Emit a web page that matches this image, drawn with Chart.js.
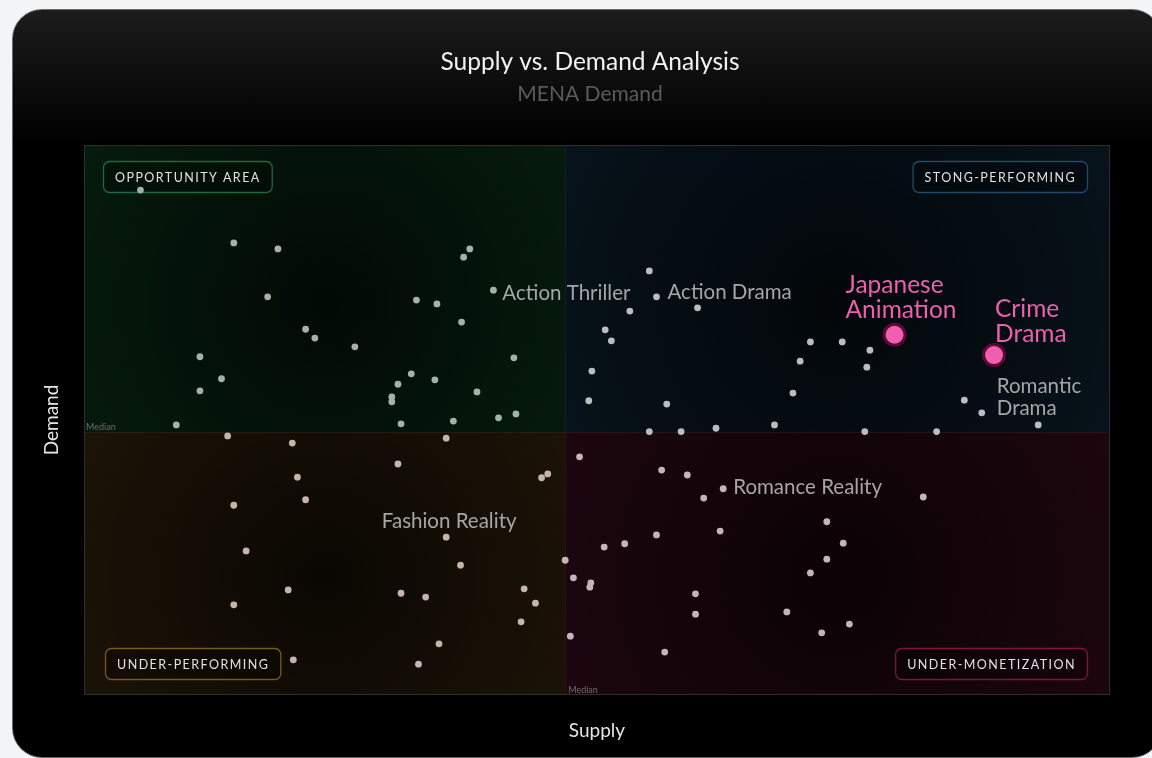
<!DOCTYPE html>
<html>
<head>
<meta charset="utf-8">
<script src="https://cdn.jsdelivr.net/npm/chart.js@4.4.1/dist/chart.umd.min.js"></script>
<style>
  html, body { margin: 0; padding: 0; width: 1152px; height: 758px; overflow: hidden; background: #f3f4f6; }
  .card {
    position: absolute; left: 12px; top: 9px; width: 1150px; height: 749px;
    box-sizing: border-box; border: 1px solid #6a6a6a; border-radius: 30px;
    background: linear-gradient(180deg, #1c1c1c 0px, #0b0b0b 80px, #000 135px, #000 100%);
  }
  .wrap { position: absolute; left: 0; top: 0; width: 1152px; height: 758px; }
</style>
</head>
<body>
<div class="card"></div>
<div class="wrap"><canvas id="chart"></canvas></div>
<script>
// --- Datos (supply / demand index, 0-100) ---
const medianSupply = 46.9;
const medianDemand = 47.8;

// titles without label
const supplyValues = [
  5.5, 14.6, 18.9, 17.9, 21.6, 22.5, 26.4, 11.3, 13.4, 11.3, 9.0, 37.6, 37.0, 32.4,
  34.4, 36.8, 41.9, 31.9, 30.6, 34.2, 30.0, 30.0, 38.3, 30.9, 36.0, 40.4, 42.1,
  55.1, 53.2, 59.8, 50.8, 51.4, 49.5, 49.2, 56.8, 70.8, 73.9, 76.6, 69.8, 76.3,
  69.1, 85.8, 93.0, 67.3, 61.6, 58.2, 55.1, 76.1, 83.1,
  14.0, 20.3, 35.3, 30.6, 20.8, 21.6, 14.6, 45.2, 44.6, 15.8, 36.7, 19.9, 14.6,
  30.9, 33.3, 42.9, 44.0, 42.6, 34.6, 20.4, 32.6,
  48.3, 56.3, 58.8, 60.4, 81.8, 72.4, 62.0, 55.8, 74.0, 52.7, 50.7, 46.9, 72.4,
  70.8, 47.7, 49.4, 49.3, 59.6, 59.6, 68.5, 74.6, 71.9, 47.4, 56.6
];
const demandValues = [
  91.8, 82.2, 81.1, 72.4, 66.5, 64.9, 63.3, 61.5, 57.5, 55.3, 49.1, 81.1, 79.6, 71.8,
  71.1, 67.8, 61.3, 58.4, 56.5, 57.3, 54.2, 53.3, 55.1, 49.3, 49.8, 50.4, 51.1,
  77.1, 69.8, 70.4, 66.4, 64.4, 58.9, 53.5, 52.9, 64.2, 64.2, 62.7, 60.7, 59.6,
  54.9, 53.6, 49.1, 49.1, 48.5, 47.9, 47.9, 47.9, 47.9,
  47.1, 45.8, 46.7, 42.0, 39.6, 35.5, 34.5, 40.2, 39.5, 26.2, 23.6, 19.1, 16.4,
  18.5, 17.8, 19.3, 16.7, 13.3, 9.3, 6.4, 5.6,
  43.3, 40.9, 40.0, 35.8, 36.0, 31.5, 29.8, 29.1, 27.6, 27.5, 26.9, 24.5, 24.7,
  22.2, 21.3, 20.4, 19.6, 18.4, 14.7, 15.1, 12.9, 11.3, 10.7, 7.8
];

// labelled titles
const namedTitles = ['Action Thriller', 'Action Drama', 'Romantic Drama', 'Fashion Reality', 'Romance Reality'];
const namedSupply = [39.9, 55.8, 87.5, 35.3, 62.3];
const namedDemand = [73.6, 72.4, 51.3, 28.7, 37.5];

// highlighted titles
const highlightTitles = ['Japanese Animation', 'Crime Drama'];
const highlightSupply = [79.0, 88.7];
const highlightDemand = [65.5, 61.8];

const quadrantLabels = ['OPPORTUNITY AREA', 'STONG-PERFORMING', 'UNDER-PERFORMING', 'UNDER-MONETIZATION'];

// --- Estilos ---
const FONT = 'Lato, "Noto Sans", sans-serif';
const PINK = '#ee5fae';

// label offsets from the point (px)
const labelPlacement = {
  'Action Thriller':    { dx: 9,   dy: 3,   align: 'left' },
  'Action Drama':       { dx: 11,  dy: -4,  align: 'left' },
  'Romantic Drama':     { dx: 15,  dy: -26, align: 'left', wrap: true, gap: 22 },
  'Fashion Reality':    { dx: 3,   dy: -16, align: 'center' },
  'Romance Reality':    { dx: 10,  dy: -1,  align: 'left' },
  'Japanese Animation': { dx: -49, dy: -50, align: 'left', wrap: true, gap: 25 },
  'Crime Drama':        { dx: 1,   dy: -46, align: 'left', wrap: true, gap: 25 }
};

function pointColor(p) {
  if (!p) return '#bdbdbd';
  const right = p.x >= medianSupply, top = p.y >= medianDemand;
  if (top && !right) return '#a3b3a8';
  if (top && right) return '#bcbdbf';
  if (!top && !right) return '#c6b5a8';
  return '#c8b3ba';
}

function drawTag(ctx, text, x, y, anchorRight, border) {
  ctx.save();
  ctx.font = '12.5px ' + FONT;
  ctx.letterSpacing = '1.45px';
  const w = ctx.measureText(text).width + 23;
  const h = 31;
  const left = anchorRight ? x - w : x;
  ctx.beginPath();
  ctx.roundRect(left + 0.5, y + 0.5, w, h, 6);
  ctx.fillStyle = 'rgba(0,0,0,0.25)';
  ctx.fill();
  ctx.strokeStyle = border;
  ctx.lineWidth = 1.3;
  ctx.stroke();
  ctx.fillStyle = '#e2e2e2';
  ctx.textAlign = 'left';
  ctx.textBaseline = 'middle';
  ctx.fillText(text, left + 12, y + h / 2 + 1.5);
  ctx.restore();
}

const quadrantPlugin = {
  id: 'quadrants',
  beforeDatasetsDraw(chart) {
    const { ctx, chartArea: a, scales: { x, y } } = chart;
    const mx = x.getPixelForValue(medianSupply);
    const my = y.getPixelForValue(medianDemand);
    const quads = [
      { x0: a.left, y0: a.top, x1: mx, y1: my, base: '#06200f' },
      { x0: mx, y0: a.top, x1: a.right, y1: my, base: '#081620' },
      { x0: a.left, y0: my, x1: mx, y1: a.bottom, base: '#211708' },
      { x0: mx, y0: my, x1: a.right, y1: a.bottom, base: '#230812' }
    ];
    ctx.save();
    quads.forEach(q => {
      const w = q.x1 - q.x0, h = q.y1 - q.y0;
      ctx.fillStyle = q.base;
      ctx.fillRect(q.x0, q.y0, w, h);
      const cx = q.x0 + w * 0.5, cy = q.y0 + h * 0.55;
      const g = ctx.createRadialGradient(cx, cy, 0, cx, cy, Math.max(w, h) * 0.7);
      g.addColorStop(0, 'rgba(0,0,0,0.7)');
      g.addColorStop(1, 'rgba(0,0,0,0.05)');
      ctx.fillStyle = g;
      ctx.fillRect(q.x0, q.y0, w, h);
    });
    // median seams
    ctx.strokeStyle = 'rgba(255,255,255,0.07)';
    ctx.lineWidth = 1;
    ctx.beginPath();
    ctx.moveTo(mx + 0.5, a.top); ctx.lineTo(mx + 0.5, a.bottom);
    ctx.moveTo(a.left, my + 0.5); ctx.lineTo(a.right, my + 0.5);
    ctx.stroke();
    // frame
    ctx.strokeStyle = '#2f2f2f';
    ctx.strokeRect(a.left + 0.5, a.top + 0.5, a.right - a.left - 1, a.bottom - a.top - 1);

    // median captions
    ctx.font = '9px ' + FONT;
    ctx.fillStyle = '#6c6c6c';
    ctx.textAlign = 'left';
    ctx.textBaseline = 'bottom';
    ctx.fillText('Median', a.left + 2, my - 0.5);
    ctx.fillText('Median', mx + 3, a.bottom - 0.5);
    ctx.restore();

    drawTag(ctx, quadrantLabels[0], a.left + 19, a.top + 16, false, '#1e6a3d');
    drawTag(ctx, quadrantLabels[1], a.right - 23, a.top + 16, true, '#1f4c6e');
    drawTag(ctx, quadrantLabels[2], a.left + 21, a.bottom - 47, false, '#7a591f');
    drawTag(ctx, quadrantLabels[3], a.right - 23, a.bottom - 47, true, '#7d1533');
  }
};

const pointLabelPlugin = {
  id: 'pointLabels',
  afterDatasetsDraw(chart) {
    const { ctx } = chart;
    const sets = [
      { index: 1, names: namedTitles, font: '20.5px ' + FONT, color: '#a6a6a6' },
      { index: 2, names: highlightTitles, font: '24.5px ' + FONT, color: PINK }
    ];
    ctx.save();
    ctx.textBaseline = 'middle';
    sets.forEach(s => {
      const meta = chart.getDatasetMeta(s.index);
      meta.data.forEach((el, i) => {
        const name = s.names[i];
        const p = labelPlacement[name] || { dx: 8, dy: 0, align: 'left' };
        const lines = p.wrap ? name.split(' ') : [name];
        ctx.font = s.font;
        ctx.fillStyle = s.color;
        ctx.textAlign = p.align;
        lines.forEach((line, j) => {
          ctx.fillText(line, el.x + p.dx, el.y + p.dy + j * (p.gap || 0));
        });
      });
    });
    ctx.restore();
  }
};

const toPoints = (xs, ys) => xs.map((v, i) => ({ x: v, y: ys[i] }));

new Chart(document.getElementById('chart'), {
  type: 'scatter',
  data: {
    datasets: [
      {
        label: 'Titles',
        data: toPoints(supplyValues, demandValues),
        backgroundColor: c => pointColor(c.raw),
        borderWidth: 0,
        pointRadius: 3.4
      },
      {
        label: 'Named titles',
        data: toPoints(namedSupply, namedDemand),
        backgroundColor: c => pointColor(c.raw),
        borderWidth: 0,
        pointRadius: 3.4
      },
      {
        label: 'Highlighted',
        data: toPoints(highlightSupply, highlightDemand),
        backgroundColor: PINK,
        borderColor: '#5c0a33',
        borderWidth: 3,
        pointRadius: 10.5
      }
    ]
  },
  options: {
    responsive: true,
    maintainAspectRatio: false,
    animation: false,
    layout: { padding: { top: 47, left: 70, right: 42, bottom: 17 } },
    scales: {
      x: {
        min: 0, max: 100,
        ticks: { display: false },
        grid: { display: false, drawTicks: false, tickLength: 0 },
        border: { display: false },
        title: {
          display: true, text: 'Supply', color: '#e6e6e6',
          font: { family: FONT, size: 19 },
          padding: { top: 24.6, bottom: -1.4 }
        }
      },
      y: {
        min: 0, max: 100,
        ticks: { display: false },
        grid: { display: false, drawTicks: false, tickLength: 0 },
        border: { display: false },
        title: {
          display: true, text: 'Demand', color: '#e6e6e6',
          font: { family: FONT, size: 19 },
          padding: { top: -29.4, bottom: 20.6 }
        }
      }
    },
    plugins: {
      legend: { display: false },
      tooltip: { enabled: false },
      title: {
        display: true, text: 'Supply vs. Demand Analysis', color: '#f2f2f2',
        font: { family: FONT, size: 24.5, weight: 'normal' },
        padding: { top: 0, bottom: 4 }
      },
      subtitle: {
        display: true, text: 'MENA Demand', color: '#5b5b5b',
        font: { family: FONT, size: 21 },
        padding: { top: 1, bottom: 38.4 }
      }
    }
  },
  plugins: [quadrantPlugin, pointLabelPlugin]
});
</script>
</body>
</html>
